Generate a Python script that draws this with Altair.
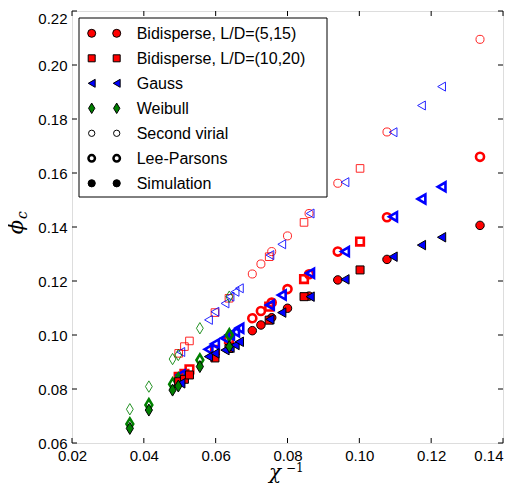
import altair as alt
import pandas as pd

# ---------------- data ----------------
# Bidisperse, L/D=(5,15)
bi1_x = [0.0702, 0.0726, 0.0756, 0.0800, 0.0860, 0.0940, 0.1077, 0.1336]
bi1_virial = [0.1226, 0.1263, 0.1309, 0.1367, 0.1450, 0.1562, 0.1752, 0.2095]
bi1_lp = [0.1062, 0.1089, 0.1120, 0.1170, 0.1225, 0.1309, 0.1436, 0.1660]
bi1_sim = [0.1016, 0.1037, 0.1064, 0.1099, 0.1144, 0.1204, 0.1280, 0.1406]

# Bidisperse, L/D=(10,20)
bi2_x = [0.0497, 0.0513, 0.0527, 0.0598, 0.0637, 0.0749, 0.0846, 0.1002]
bi2_virial = [0.0932, 0.0957, 0.0978, 0.1083, 0.1136, 0.1290, 0.1417, 0.1617]
bi2_lp = [0.0845, 0.0856, 0.0873, 0.0945, 0.0985, 0.1105, 0.1207, 0.1346]
bi2_sim = [0.0827, 0.0836, 0.0852, 0.0915, 0.0950, 0.1055, 0.1142, 0.1241]

# Gauss
ga_x = [0.0503, 0.0580, 0.0598, 0.0626, 0.0640, 0.0654, 0.0666,
        0.0751, 0.0784, 0.0863, 0.0960, 0.1094, 0.1173, 0.1229]
ga_virial = [0.0937, 0.1056, 0.1086, 0.1117, 0.1142, 0.1160, 0.1173,
             0.1296, 0.1336, 0.1450, 0.1566, 0.1751, 0.1850, 0.1920]
ga_lp = [0.0852, 0.0947, 0.0967, 0.0988, 0.1000, 0.1012, 0.1025,
         0.1111, 0.1148, 0.1229, 0.1309, 0.1438, 0.1504, 0.1549]
ga_sim = [0.0821, 0.0920, 0.0932, 0.0944, 0.0953, 0.0963, 0.0975,
          0.1058, 0.1083, 0.1142, 0.1206, 0.1290, 0.1333, 0.1362]

# Weibull
wb_x = [0.0361, 0.0414, 0.0480, 0.0496, 0.0556, 0.0638]
wb_virial = [0.0725, 0.0809, 0.0911, 0.0926, 0.1025, 0.1142]
wb_lp = [0.0670, 0.0741, 0.0818, 0.0836, 0.0907, 0.1000]
wb_sim = [0.0654, 0.0722, 0.0796, 0.0811, 0.0883, 0.0957]

x_ticks = [0.02, 0.04, 0.06, 0.08, 0.10, 0.12, 0.14]
y_ticks = [0.06, 0.08, 0.10, 0.12, 0.14, 0.16, 0.18, 0.20, 0.22]

legend_labels = ["Bidisperse, L/D=(5,15)", "Bidisperse, L/D=(10,20)", "Gauss",
                 "Weibull", "Second virial", "Lee-Parsons", "Simulation"]

# ---------------- styling ----------------
W, H = 431, 432
RED, BLUE, GREEN = "#ff0000", "#0000ff", "#008000"
THIN_DIAMOND = "M0,-1L0.6,0L0,1L-0.6,0Z"
FONT = "Liberation Sans"

xs = alt.Scale(domain=[0.02, 0.14], nice=False, zero=False)
ys = alt.Scale(domain=[0.06, 0.22], nice=False, zero=False)
x_axis = alt.Axis(values=x_ticks, format=".2f", ticks=False, grid=False, domain=False,
                  labelFont=FONT, labelFontSize=15, labelColor="black",
                  labelPadding=5, title=None, labelFlush=False,
                  labelAlign={"condition": {"test": "datum.value > 0.139", "value": "right"},
                              "value": "center"})
y_axis = alt.Axis(values=y_ticks, format=".2f", ticks=False, grid=False, domain=False,
                  labelFont=FONT, labelFontSize=15, labelColor="black",
                  labelPadding=5, title=None, labelFlush=False,
                  labelBaseline={"condition": {"test": "datum.value > 0.219", "value": "top"},
                                 "value": "middle"})

one = pd.DataFrame({"a": [0]})

dists = [
    (bi1_x, bi1_virial, bi1_lp, bi1_sim, "circle", RED, 72),
    (bi2_x, bi2_virial, bi2_lp, bi2_sim, "square", RED, 64),
    (ga_x, ga_virial, ga_lp, ga_sim, "triangle-left", BLUE, 90),
    (wb_x, wb_virial, wb_lp, wb_sim, THIN_DIAMOND, GREEN, 144),
]

layers = []


def pts(xv, yv):
    return pd.DataFrame({"x": xv, "y": yv})


def enc():
    return dict(x=alt.X("x:Q", scale=xs, axis=x_axis), y=alt.Y("y:Q", scale=ys, axis=y_axis))


# second virial: thin open
for xv, v, lp, sim, shape, col, size in dists:
    layers.append(alt.Chart(pts(xv, v)).mark_point(
        shape=shape, filled=False, stroke=col, strokeWidth=1, size=size * 0.9,
        opacity=0.85).encode(**enc()))
# Lee-Parsons: thick open
for xv, v, lp, sim, shape, col, size in dists:
    layers.append(alt.Chart(pts(xv, lp)).mark_point(
        shape=shape, filled=False, stroke=col, strokeWidth=2.6, size=size * 0.9,
        opacity=1).encode(**enc()))
# Simulation: filled with black edge
for xv, v, lp, sim, shape, col, size in dists:
    layers.append(alt.Chart(pts(xv, sim)).mark_point(
        shape=shape, filled=True, fill=col, stroke="black", strokeWidth=1,
        size=size, opacity=1).encode(**enc()))

# inward ticks on all four sides
xt_df = pd.DataFrame({"x": x_ticks})
yt_df = pd.DataFrame({"y": y_ticks})
for y0, y1 in [(H, H - 5), (0, 5)]:
    layers.append(alt.Chart(xt_df).mark_rule(color="black", strokeWidth=1).encode(
        x=alt.X("x:Q", scale=xs, axis=x_axis), y=alt.value(y0), y2=alt.value(y1)))
for x0, x1 in [(0, 5), (W, W - 5)]:
    layers.append(alt.Chart(yt_df).mark_rule(color="black", strokeWidth=1).encode(
        y=alt.Y("y:Q", scale=ys, axis=y_axis), x=alt.value(x0), x2=alt.value(x1)))

# legend box
layers.append(alt.Chart(one).mark_rect(fill="white", stroke="black", strokeWidth=1).encode(
    x=alt.value(7), x2=alt.value(255), y=alt.value(7), y2=alt.value(186)))

leg_styles = [
    dict(shape="circle", filled=True, fill=RED, stroke="black", strokeWidth=1, size=64),
    dict(shape="square", filled=True, fill=RED, stroke="black", strokeWidth=1, size=49),
    dict(shape="triangle-left", filled=True, fill=BLUE, stroke="black", strokeWidth=1, size=64),
    dict(shape=THIN_DIAMOND, filled=True, fill=GREEN, stroke="black", strokeWidth=1, size=110),
    dict(shape="circle", filled=False, stroke="black", strokeWidth=1, size=40),
    dict(shape="circle", filled=False, stroke="black", strokeWidth=2.5, size=42),
    dict(shape="circle", filled=True, fill="black", stroke="black", strokeWidth=1, size=52),
]
for i, (lab, st) in enumerate(zip(legend_labels, leg_styles)):
    yy = 22.3 + 25 * i
    for xx in (19.7, 44.7):
        layers.append(alt.Chart(one).mark_point(opacity=1, **st).encode(
            x=alt.value(xx), y=alt.value(yy)))
    layers.append(alt.Chart(one).mark_text(
        font=FONT, fontSize=16, align="left", baseline="middle", color="black").encode(
        x=alt.value(64.7), y=alt.value(yy + 1), text=alt.value(lab)))

# axis titles (math style)
SERIF = "DejaVu Serif"
layers.append(alt.Chart(one).mark_text(
    font=SERIF, fontStyle="italic", fontSize=20, align="center", baseline="alphabetic",
    color="black").encode(x=alt.value(203), y=alt.value(468), text=alt.value("χ")))
layers.append(alt.Chart(one).mark_text(
    font=SERIF, fontSize=12, align="left", baseline="alphabetic",
    color="black").encode(x=alt.value(214), y=alt.value(461), text=alt.value("−1")))
layers.append(alt.Chart(one).mark_text(
    font=SERIF, fontStyle="italic", fontSize=21, align="center", baseline="middle",
    angle=270, color="black").encode(x=alt.value(-55), y=alt.value(216), text=alt.value("ϕ")))
layers.append(alt.Chart(one).mark_text(
    font=SERIF, fontStyle="italic", fontSize=14, align="center", baseline="middle",
    angle=270, color="black").encode(x=alt.value(-49), y=alt.value(204), text=alt.value("c")))

chart = alt.layer(*layers).properties(
    width=W, height=H,
    autosize=alt.AutoSizeParams(type="none"),
    padding={"left": 64, "top": 3, "right": 7, "bottom": 41},
).configure_view(stroke="black", strokeWidth=1.2).configure(background="white")

chart.save("out.html", embed_options={"renderer": "svg", "actions": False})
